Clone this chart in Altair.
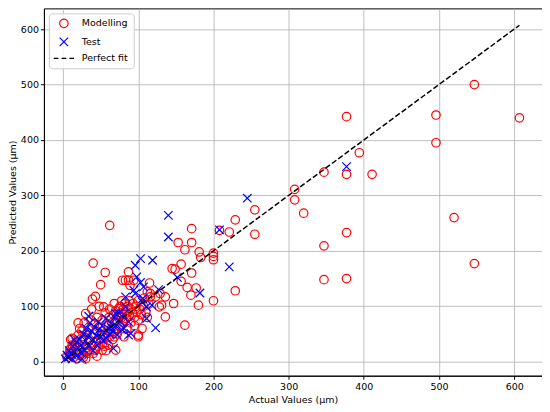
import altair as alt
import pandas as pd

# ---- data ----
mod_x = [607, 547, 547, 520, 496, 496, 411, 394, 377, 377, 377, 377, 347, 347, 347, 320, 308, 308,
         255, 255, 229, 229, 221, 208, 200, 200, 200, 200, 183, 181, 180, 177, 171, 171, 171, 170,
         165, 162, 162, 157, 157, 153, 149, 145, 147, 136, 136, 131, 129, 128, 123, 116, 115, 112,
         116, 114, 94, 87, 87, 83, 89, 79, 62, 40, 56, 50, 39, 43, 100, 68, 52, 76, 67, 100, 81, 70,
         5, 8, 10, 12, 12, 14, 15, 16, 18, 18, 20, 20, 22, 22, 24, 25, 25, 27, 28, 28, 30, 30, 32,
         32, 34, 35, 35, 37, 38, 38, 40, 40, 42, 43, 44, 45, 45, 47, 48, 50, 50, 52, 53, 54, 55, 56,
         57, 58, 60, 60, 61, 62, 63, 65, 66, 67, 68, 69, 70, 72, 72, 74, 74, 75, 76, 77, 78, 78, 80,
         80, 82, 82, 84, 85, 85, 86, 88, 88, 90, 90, 92, 93, 95, 95, 97, 98, 100, 100, 102, 104, 105,
         107, 108, 110, 112, 26, 30, 12, 9, 20, 45, 55]
mod_y = [440, 500, 177, 260, 445, 395, 338, 377, 442, 338, 233, 150, 342, 209, 148, 268, 311, 292,
         274, 230, 256, 128, 234, 237, 196, 190, 184, 110, 188, 198, 102, 133, 240, 215, 160, 120,
         134, 202, 66, 176, 145, 215, 167, 168, 105, 117, 81, 102, 123, 99, 117, 123, 142, 126,
         117, 104, 147, 147, 162, 147, 138, 147, 246, 178, 161, 139, 113, 118, 45, 45, 21, 63, 55, 48, 45, 21,
         10, 15, 40, 42, 25, 8, 30, 18, 5, 35, 12, 48, 60, 28, 20, 38, 55, 8, 45, 70, 87, 25, 15,
         52, 62, 40, 20, 75, 30, 95, 50, 15, 68, 21, 35, 80, 55, 28, 100, 62, 40, 75, 32, 99, 50, 88,
         20, 65, 45, 30, 80, 95, 55, 70, 40, 85, 105, 60, 92, 75, 50, 96, 85, 65, 100, 88, 80, 110, 70,
         95, 85, 105, 78, 90, 60, 100, 82, 110, 95, 70, 88, 105, 80, 65, 100, 90, 75, 110, 95, 85, 60,
         100, 115, 90, 80, 12, 5, 30, 22, 70, 10, 28]
test_x = [377, 245, 208, 221, 182, 140, 140, 119, 103, 96, 98, 152, 107, 103, 127, 94, 83, 96, 105,
          111, 118, 123, 111, 87, 34, 70, 83, 87, 81, 90, 67, 64, 106,
          3, 5, 7, 8, 10, 12, 13, 15, 17, 18, 20, 22, 24, 25, 27, 28, 30, 31, 33, 35, 36, 38, 40,
          42, 44, 45, 47, 48, 50, 52, 53, 55, 57, 58, 60, 62, 64, 66, 68, 70, 72, 74, 76, 78, 80,
          25, 15, 40]
test_y = [352, 295, 238, 171, 124, 264, 225, 183, 186, 174, 153, 152, 135, 143, 130, 129, 117, 123, 108,
          99, 102, 61, 78, 48, 82, 87, 99, 72, 60, 51, 24, 62, 114,
          5, 12, 8, 20, 15, 5, 28, 18, 35, 10, 25, 40, 30, 15, 50, 22, 38, 60, 45, 28, 70, 55, 40,
          62, 48, 30, 72, 58, 45, 65, 38, 52, 78, 42, 60, 50, 70, 55, 80, 65, 48, 88, 72, 58, 85,
          5, 40, 20]

series = ["Modelling", "Test", "Perfect fit"]
colors = ["#ff0000", "#0000ff", "#000000"]
shapes = ["circle", "M-1,-1L1,1M-1,1L1,-1", "M-2.4,0H-1.3M-0.55,0H0.55M1.3,0H2.4"]
ticks = [0, 100, 200, 300, 400, 500, 600]

df = pd.DataFrame({
    "actual": mod_x + test_x,
    "pred": mod_y + test_y,
    "series": ["Modelling"] * len(mod_x) + ["Test"] * len(test_x),
})
lo = min(mod_x + test_x)
hi = max(mod_x + test_x)
line_df = pd.DataFrame({"actual": [lo, hi], "pred": [lo, hi]})

xs = alt.Scale(domain=[-25.5, 637], nice=False, zero=False)
ys = alt.Scale(domain=[-25.2, 637.4], nice=False, zero=False)

leg = alt.Legend(title=None, orient="top-left")

points = alt.Chart(df).mark_point(filled=False, size=72, strokeWidth=1.2, opacity=1).encode(
    x=alt.X("actual:Q", scale=xs, axis=alt.Axis(values=ticks, title="Actual Values (µm)")),
    y=alt.Y("pred:Q", scale=ys, axis=alt.Axis(values=ticks, title="Predicted Values (µm)", titlePadding=3)),
    color=alt.Color("series:N", scale=alt.Scale(domain=series, range=colors), legend=leg),
    shape=alt.Shape("series:N", scale=alt.Scale(domain=series, range=shapes), legend=leg),
)

line = alt.Chart(line_df).mark_line(color="black", strokeDash=[5.5, 2.4], strokeWidth=1.5).encode(
    x=alt.X("actual:Q", scale=xs),
    y=alt.Y("pred:Q", scale=ys),
)

chart = alt.layer(points, line).properties(
    width=499, height=368,
    autosize=alt.AutoSizeParams(type="none"),
    padding={"left": 36, "top": 0, "right": 0, "bottom": 36},
).configure_view(
    stroke="black", strokeWidth=1
).configure_axis(
    grid=True, gridColor="#b0b0b0", gridWidth=0.8,
    domainColor="black", tickColor="black", tickSize=3.5,
    labelFont="DejaVu Sans", labelFontSize=9.5, labelColor="black",
    titleFont="DejaVu Sans", titleFontSize=9.5, titleFontWeight="normal", titleColor="black",
).configure_legend(
    offset=5, padding=5, symbolOffset=5,
    fillColor="rgba(255,255,255,0.8)", strokeColor="#cccccc", cornerRadius=3,
    labelFont="DejaVu Sans", labelFontSize=9.5, labelColor="black",
    symbolSize=72, symbolStrokeWidth=1.2, symbolFillColor="transparent",
    labelOffset=13, rowPadding=4.5,
)

chart.save("out.html", embed_options={"renderer": "svg", "actions": False})
